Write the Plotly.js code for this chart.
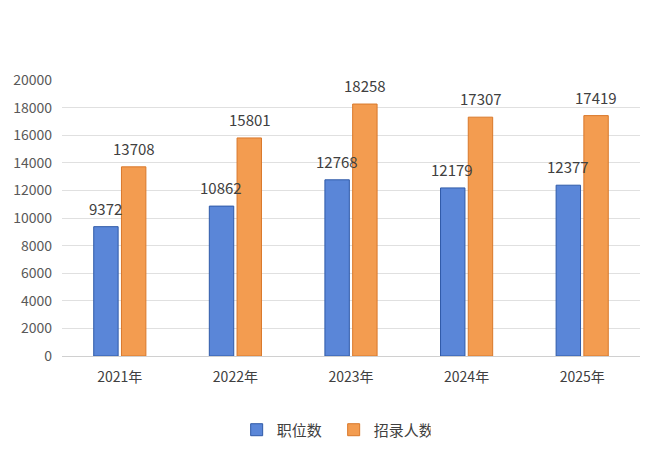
<!DOCTYPE html>
<html>
<head>
<meta charset="utf-8">
<script src="https://cdn.plot.ly/plotly-3.0.1.min.js"></script>
<style>html,body{margin:0;padding:0;background:#fff;}#chart{width:660px;height:455px;}</style>
</head>
<body>
<div id="chart"></div>
<script>
const categories = ["2021年", "2022年", "2023年", "2024年", "2025年"];
const positions = [9372, 10862, 12768, 12179, 12377];
const recruits = [13708, 15801, 18258, 17307, 17419];
const seriesNames = ["职位数", "招录人数"];
const yTicks = [0, 2000, 4000, 6000, 8000, 10000, 12000, 14000, 16000, 18000, 20000];

const font = "'Noto Sans CJK SC', 'Noto Sans', sans-serif";
const traces = [
  {
    type: "bar", name: seriesNames[0], x: categories, y: positions,
    marker: {color: "#5a86d8", line: {color: "#2f5aa8", width: 1}}
  },
  {
    type: "bar", name: seriesNames[1], x: categories, y: recruits,
    marker: {color: "#f39c50", line: {color: "#d9782a", width: 1}}
  }
];
function labels(vals, shift) {
  return vals.map((v, i) => ({
    x: categories[i], y: v, text: String(v), showarrow: false,
    xanchor: "center", yanchor: "bottom", xshift: shift, yshift: 6,
    font: {family: font, size: 15, color: "#404040"}
  }));
}
const layout = {
  width: 660, height: 455,
  margin: {l: 62, r: 20, t: 80, b: 99, autoexpand: false},
  paper_bgcolor: "#fff", plot_bgcolor: "#fff",
  font: {family: font, size: 14, color: "#595959"},
  barmode: "group", bargap: 0.52, bargroupgap: 0.12,
  showlegend: true,
  legend: {orientation: "h", x: 0.47, xanchor: "center", y: -0.268, yanchor: "middle",
           font: {family: font, size: 15, color: "#404040"}, itemwidth: 30, entrywidth: 52},
  annotations: labels(positions, -14.2).concat(labels(recruits, 14.2)),
  xaxis: {type: "category", showgrid: false, showline: true, linecolor: "#d0d0d0", linewidth: 1,
          ticks: "", ticklabelstandoff: 8, tickfont: {family: font, size: 14, color: "#404040"}},
  yaxis: {range: [0, 20000], tickvals: yTicks, ticktext: yTicks.map(String), showgrid: true,
          gridcolor: "#e0e0e0", zeroline: false, showline: false, ticks: "", ticklabelstandoff: 9,
          tickfont: {family: font, size: 14, color: "#595959"}}
};
Plotly.newPlot("chart", traces, layout, {displayModeBar: false, staticPlot: true});
</script>
</body>
</html>
